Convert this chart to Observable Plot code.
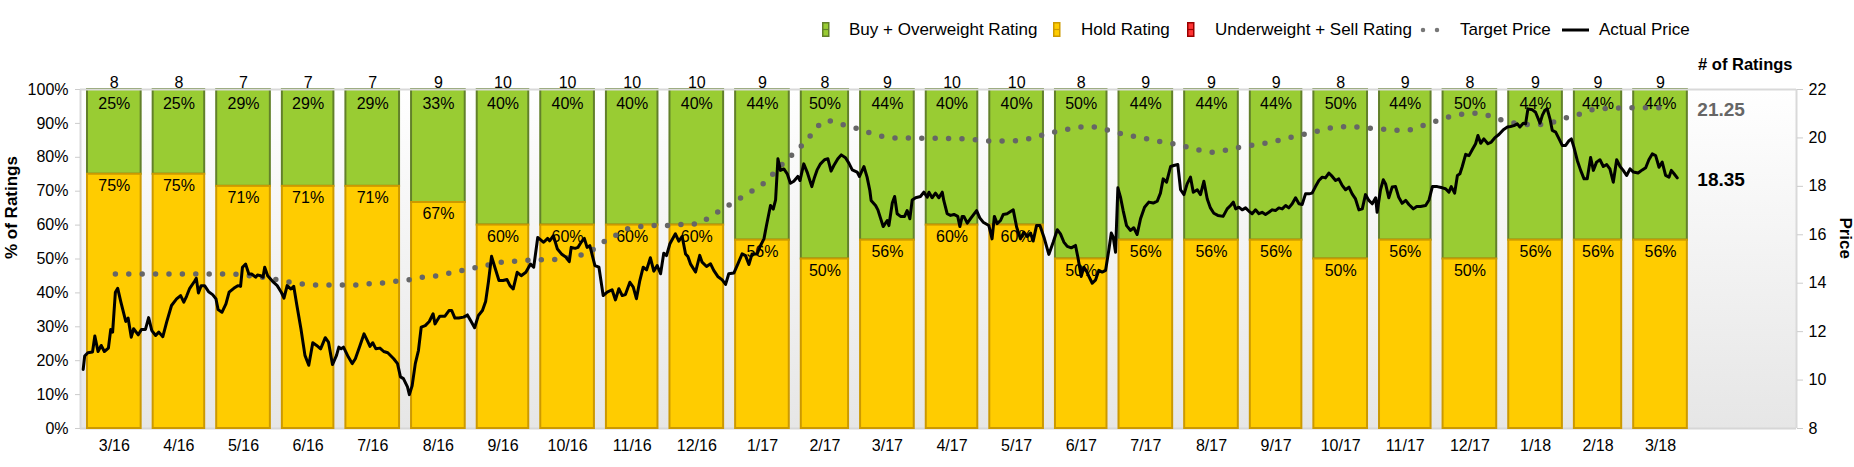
<!DOCTYPE html>
<html>
<head>
<meta charset="utf-8">
<script src="https://cdn.jsdelivr.net/npm/d3@7"></script>
<script src="https://cdn.jsdelivr.net/npm/@observablehq/plot@0.6"></script>
<style>
  html, body { margin: 0; padding: 0; background: #fff; }
  body { width: 1854px; height: 467px; overflow: hidden; font-family: "Liberation Sans", Arial, sans-serif; }
  #legend { position: relative; height: 50px; font-size: 17px; color: #000; }
  #legend .item { position: absolute; top: 20px; height: 19px; line-height: 19px; white-space: nowrap; }
  #legend svg { display: block; position: absolute; }
  #chart svg { display: block; }
</style>
</head>
<body>
<div id="legend"></div>
<div id="chart"></div>
<script>
// ---------------- data ----------------
const monthLabels = ["3/16","4/16","5/16","6/16","7/16","8/16","9/16","10/16","11/16","12/16",
  "1/17","2/17","3/17","4/17","5/17","6/17","7/17","8/17","9/17","10/17","11/17","12/17",
  "1/18","2/18","3/18"];
const buyCounts  = [2,2,2,2,2,3,4,4,4,4,4,4,4,4,4,4,4,4,4,4,4,4,4,4,4];
const holdCounts = [6,6,5,5,5,6,6,6,6,6,5,4,5,6,6,4,5,5,5,4,5,4,5,5,5];
const sellCounts = [0,0,0,0,0,0,0,0,0,0,0,0,0,0,0,0,0,0,0,0,0,0,0,0,0];

// [days after 2016-03-01, price]
const actualPrice = [[0.8,10.44],[1.5,10.99],[3,11.13],[5.2,11.16],[6.3,11.82],[7.8,11.18],[9.3,11.43],[10.8,11.18],[12.7,11.32],[13.8,12.09],[14.7,11.98],[16,13.63],[17.1,13.79],[18.6,13.22],[20.9,12.42],[22,12.56],[23.5,11.77],[24.6,12.12],[26.8,11.87],[28.3,12.09],[30.2,12.09],[31.7,12.58],[33.2,12.04],[35,11.84],[36.5,11.98],[38.4,11.79],[40.2,12.39],[42.5,13.08],[44.9,13.35],[46.8,13.49],[48.3,13.22],[49.6,13.46],[51.1,13.79],[53.3,14.07],[54.2,14.2],[55.2,13.6],[56.5,13.9],[58.1,13.9],[60,13.65],[61.9,13.53],[63.5,13.35],[64.5,12.91],[66.3,12.8],[68.2,13.15],[69.7,13.63],[71.9,13.79],[73.8,13.9],[75.1,13.87],[76,14.66],[77.5,14.79],[79,14.38],[80.3,14.38],[82.2,14.25],[83.1,14.34],[84.6,14.31],[85.7,14.25],[86.5,14.66],[87.9,14.31],[90.6,14.04],[92.4,13.9],[94.3,13.63],[95.6,13.38],[97.1,13.9],[98.9,13.76],[100.2,13.87],[101.7,13.08],[103.6,12.12],[105.5,11.02],[107.3,10.61],[109.2,11.54],[111,11.43],[112.9,11.29],[115.1,11.75],[116.6,11.57],[118.5,10.64],[120.4,11.02],[121.5,11.36],[122.6,11.29],[123.7,11.36],[126,10.95],[127.8,10.68],[129.3,10.88],[131.5,11.43],[133.4,11.91],[134.9,11.64],[136.2,11.39],[137.5,11.54],[139,11.29],[140.9,11.32],[142.7,11.18],[144.6,11.13],[147.4,10.88],[149.2,10.68],[150.6,10.13],[152,10.06],[153.9,9.72],[154.8,9.4],[156.1,9.76],[157.6,10.68],[159.1,11.23],[160.4,12.19],[162.3,12.25],[164.2,12.42],[166,12.74],[166.9,12.32],[168.4,12.53],[169.2,12.64],[171.6,12.64],[173.5,12.87],[174.8,12.87],[176.3,12.56],[178.1,12.56],[180.4,12.6],[182.2,12.69],[183.7,12.46],[185.6,12.16],[187.4,12.67],[189.3,12.87],[190.8,13.24],[192.1,14.04],[193.6,15.11],[194.9,14.73],[197.1,14.11],[199,14.11],[200.9,14.15],[202.3,13.9],[203.8,13.76],[205.7,14.45],[207.6,14.31],[209.8,14.45],[212,14.79],[213.5,14.66],[215.4,15.89],[218.2,15.69],[220.1,15.85],[221,15.75],[222.8,15.96],[224.7,15.41],[226.6,15.21],[228.8,15.07],[230.3,14.89],[231.2,15.48],[233.1,15.44],[234.4,15.48],[235.9,15.69],[237.4,15.85],[238.7,15.48],[240,15.55],[242.4,14.73],[244.3,14.66],
[246.3,13.49],[248.2,13.63],[250.5,13.73],[252.1,13.31],[253.7,13.77],[255.3,13.49],[256.8,13.53],[258.9,14.04],[260.5,13.84],[262,13.36],[263.6,14.11],[265.2,14.66],[266.8,14.55],[268.6,15.05],[270.2,14.5],[271.8,14.73],[273.4,14.39],[274.9,15.24],[276.2,15.14],[277.8,15.63],[280.4,16.04],[282,15.74],[283.6,15.93],[285.2,15.21],[286.3,15.1],[287.5,14.8],[289.9,14.46],[291.9,15.15],[293,14.87],[295.1,14.69],[297,14.8],[298.5,14.53],[300.4,14.28],[302.5,14.14],[304.1,13.95],[305.6,14.39],[308,14.42],[309.9,14.8],[311.9,15.21],[313.5,15.14],[315.1,14.77],[316.6,15.21],[319,15.21],[320.6,15.56],[322.2,15.83],[323.4,16.38],[325.3,17.21],[326.6,17.06],[327.7,17.44],[328.8,19.14],[330,18.66],[331.6,18.72],[333.2,18.52],[334.7,18.13],[336.3,18.21],[338.2,18.41],[339.2,18.24],[341,18.93],[342.6,18.59],[344.8,17.99],[346.1,18.38],[347.3,18.68],[348.9,18.93],[350.8,19.1],[352.4,19.14],[353.9,18.63],[355.2,18.86],[357.1,19.14],[358.7,19.3],[360.7,19.18],[362.3,18.96],[363.9,18.68],[366.2,18.59],[367.3,18.41],[369.4,18.82],[370.9,18.38],[372.2,17.83],[372.8,17.42],[374.9,17.21],[376,17.03],[377.2,16.7],[378.5,16.34],[380.4,16.59],[381.2,16.38],[382.8,17.31],[383.9,17.58],[385.1,16.87],[386.7,16.76],[388.6,16.76],[389.8,17],[391.1,16.66],[392.2,17.44],[393.8,17.53],[396.1,17.58],[397.7,17.76],[399.3,17.55],[400.1,17.76],[401.6,17.53],[403.2,17.72],[404.8,17.53],[406.4,17.76],[407.1,17.42],[408.7,16.87],[410.3,16.8],[411.9,16.84],[413.7,16.76],[414.7,16.34],[415.8,16.76],[416.6,16.76],[418.2,16.48],[420,16.7],[422.6,17],[424.1,16.7],[425.7,16.52],[428.4,16.38],[429.9,15.83],[431,16.76],[432.3,16.46],
[433.9,16.59],[435.2,16.84],[437,16.87],[439.9,17.03],[441.5,16.32],[443.3,15.83],[444.9,16.11],[446.5,15.93],[448.1,16.07],[449.3,15.74],[450.9,16.38],[452.5,16.38],[454.4,15.9],[456.7,15.19],[458.8,15.7],[460.7,16.21],[462.2,16.04],[463.8,15.7],[465.4,15.52],[467.3,15.46],[469.3,15.56],[470.4,15.08],[472,14.28],[473.2,14.66],[474.5,14.5],[475.6,14.28],[477.2,14],[478.8,14.14],[480.3,14.53],[481.9,14.46],[483.5,14.53],[485,15.35],[486.2,16.07],[487.1,15.9],[488.2,15.28],[489.3,17.94],[490.6,17.53],[491.8,17],[493.4,16.38],[495.3,16.18],[496.8,16.29],[498.4,16.01],[500,16.66],[501.9,17.14],[503.9,17.35],[506,17.31],[507.9,17.39],[509.4,17.72],[510.7,18.31],[512.3,18.17],[514.2,18.82],[515.7,18.86],[517.6,18.9],[518.9,17.86],[520.5,17.66],[522,18.1],[523.6,18.38],[524.9,17.76],[526.8,17.86],[528.3,17.66],[529.9,18.21],[531.5,17.48],[533,17.11],[534.6,16.89],[536.5,16.8],[539,16.76],[540.9,17.07],[542.5,17.21],[543.8,17.35],[544.9,17.07],[546.4,17.14],[548,17.03],[549.6,17.11],[551.1,16.98],[552.7,16.87],[554.3,17.03],[555.9,16.87],[557.4,16.93],[559,16.84],[560.6,16.93],[562.2,17.03],[563.7,17],[565.3,17.11],[566.9,17.07],[568.5,17.21],[570,17.11],[571.6,17.28],[573.2,17.53],[574.8,17.28],[576.3,17.25],[577.9,17.69],[579.5,17.69],[581,17.72],[582.6,17.99],[584.2,18.24],[585.8,18.38],[587.3,18.35],[588.9,18.55],[590.5,18.41],[592.1,18.24],[593.6,18.31],[595.2,18.04],[596.8,17.86],[598.4,17.97],[599.9,17.69],[601.5,17.48],[603.1,17.03],[604.7,17.07],[606.2,17.66],[607.8,17.42],[609.4,17.28],[611,17.53],[611.7,16.93],[613.3,17.86],[614.6,18.27],[615.7,18.1],[617.2,17.53],[618.8,17.97],[620.4,17.99],[621.9,17.55],
[623.5,17.3],[625.2,17.42],[626.7,17.25],[628.8,17.07],[630.4,17.17],[632.2,17.17],[634.6,17.21],[636.2,17.44],[637.8,17.99],[640.1,17.99],[642.5,17.94],[644,17.9],[645.6,17.76],[646.7,17.99],[648.3,17.72],[649.6,18.45],[650.8,18.52],[651.9,18.82],[653.5,19.32],[655.1,19.27],[656.6,19.51],[658.2,19.76],[659.3,20.1],[660.6,19.78],[662.1,19.96],[664,19.76],[665.6,19.83],[667.2,20],[669.2,20.14],[671.3,20.34],[673.2,20.45],[674.7,20.47],[676.3,20.51],[677.9,20.58],[679.1,20.45],[680.7,20.61],[681.8,20.58],[682.9,21.2],[685,21.16],[686.5,21.06],[688.6,20.61],[689.7,20.93],[690.8,21.13],[692,21.2],[693.3,20.79],[694.4,20.31],[696,20.24],[697.6,19.96],[699.1,19.69],[700.7,19.69],[702.3,19.89],[703.4,19.96],[704.6,19.62],[706.2,19.07],[707.8,18.66],[709.4,18.31],[710.9,18.31],[712.5,19.19],[713.8,18.66],[715.3,19],[716.9,19.1],[718.5,18.82],[720.1,18.9],[721.6,18.72],[723.2,18.17],[724.8,19.1],[726.4,18.82],[727.9,18.66],[729.5,18.45],[731.1,18.72],[732.7,18.59],[734.9,18.55],[736.9,18.68],[738.5,18.77],[740,19.1],[741.6,19.34],[743.2,19.27],[744.8,18.79],[746.3,19],[747.9,18.45],[749.5,18.38],[750.6,18.66],[751.9,18.52],[753.4,18.35]];

// [days after 2016-03-01, consensus target price]
const targetPrice = [[16,14.38],[29,14.38],[43,14.38],[56,14.38],[70,14.38],[76,14.34],[83,14.27],[89,14.2],[96,14.08],[102,14.0],[109,13.93],[116,13.93],[123,13.93],[129,13.93],[135,13.97],[142,14.01],[148,14.08],[155,14.15],[161,14.25],[168,14.31],[174,14.42],[181,14.55],[187,14.66],[194,14.79],[200,14.89],[207,14.92],[214,14.96],[220,14.97],[227,15.0],[233,15.11],[240,15.3],[245,15.62],
[252,15.97],[258,16.25],[264,16.34],[270,16.38],[277,16.38],[284,16.43],[291,16.45],[296,16.7],[302,17.03],[308,17.35],[313,17.62],[319,17.94],[324,18.27],[328,18.66],[333,19.1],[338,19.51],[343,19.96],[347,20.42],[352,20.72],[358,20.58],[365,20.42],[371,20.24],[377,20.09],[384,20.0],[390,20.0],[397,19.99],[403,19.99],[410,19.98],[417,19.96],[423,19.92],[430,19.87],
[436,19.87],[443,19.89],[450,20.03],[456,20.17],[463,20.31],[469,20.42],[476,20.47],[482,20.38],[488,20.24],[495,20.1],[501,20.0],[508,19.87],[515,19.76],[521,19.65],[527,19.51],[534,19.41],[541,19.51],[547,19.62],[554,19.72],[560,19.8],[566,19.92],[573,20.07],[580,20.2],[586,20.33],[592,20.44],[599,20.47],[605,20.42],[612,20.38],[619,20.33],
[625,20.31],[632,20.47],[638,20.65],[644,20.83],[651,20.97],[657,21.02],[664,20.93],[670,20.75],[677,20.61],[683,20.55],[690,20.55],[696,20.69],[702,20.86],[709,21.02],[715,21.2],[722,21.22],[728,21.24],[735,21.25],[741,21.25],[748,21.25]];

const pctTicks = [0,10,20,30,40,50,60,70,80,90,100];
const priceTicks = [8,10,12,14,16,18,20,22];
const priceMin = 8, priceMax = 22;

// ---------------- derived ----------------
const DAY = 864e5;
const t0 = Date.UTC(2016, 2, 1);
const dayDate = d => new Date(t0 + d * DAY);
const toPct = p => (p - priceMin) / (priceMax - priceMin) * 100;

const rows = monthLabels.map((label, i) => {
  const [m, y] = label.split("/").map(Number);
  const start = new Date(Date.UTC(2000 + y, m - 1, 1));
  const end = new Date(Date.UTC(2000 + y, m, 1));
  const total = buyCounts[i] + holdCounts[i] + sellCounts[i];
  const sell = sellCounts[i] / total * 100;
  const hold = holdCounts[i] / total * 100;
  const buy = buyCounts[i] / total * 100;
  return {label, start, end, mid: new Date((+start + +end) / 2), total, sell, hold, buy,
          holdTop: sell + hold, buyTop: sell + hold + buy};
});

const lastActual = actualPrice[actualPrice.length - 1][1];
const lastTarget = targetPrice[targetPrice.length - 1][1];
const lastEnd = rows[rows.length - 1].end;

const GREEN = "#99CC33", GREEN_EDGE = "#62802A";
const YELLOW = "#FFCC00", YELLOW_EDGE = "#CC9900";
const RED = "#FF3333", RED_EDGE = "#990000";
const TARGET = "#666666";
const inset = 6;

// ---------------- chart ----------------
const chart = Plot.plot({
  width: 1854,
  height: 417,
  marginLeft: 80,
  marginRight: 58,
  marginTop: 39,
  marginBottom: 39,
  style: {fontFamily: "'Liberation Sans', Arial, sans-serif", fontSize: "16px", background: "transparent", overflow: "visible", color: "#000"},
  x: {type: "utc", domain: [dayDate(-0.47), dayDate(809.7)], axis: null},
  y: {domain: [0, 100]},
  marks: [
    Plot.frame({fill: "url(#bgGrad)", stroke: "none"}),
    Plot.ruleY([0], {stroke: "#d6d6d6", strokeWidth: 2}),
    // bars
    Plot.rectY(rows, {x1: "start", x2: "end", y1: "holdTop", y2: "buyTop", fill: GREEN, stroke: GREEN_EDGE, strokeWidth: 2, insetLeft: inset, insetRight: inset}),
    Plot.rectY(rows, {x1: "start", x2: "end", y1: "sell", y2: "holdTop", fill: YELLOW, stroke: YELLOW_EDGE, strokeWidth: 2, insetLeft: inset, insetRight: inset}),
    Plot.rectY(rows, {x1: "start", x2: "end", y1: 0, y2: "sell", fill: RED, stroke: RED_EDGE, strokeWidth: 1.5, insetLeft: inset, insetRight: inset}),
    Plot.ruleY([100], {stroke: "#d9d9d9", strokeWidth: 2}),
    Plot.ruleX([dayDate(-0.47)], {stroke: "#d9d9d9", strokeWidth: 2}),
    Plot.ruleX([dayDate(809.7)], {stroke: "#d9d9d9", strokeWidth: 2}),
    // bar labels
    Plot.text(rows, {x: "mid", y: 100, text: d => String(d.total), dy: -6.5, fill: "#000"}),
    Plot.text(rows, {x: "mid", y: "buyTop", text: d => Math.round(d.buy) + "%", dy: 14, fill: "#000"}),
    Plot.text(rows, {x: "mid", y: "holdTop", text: d => Math.round(d.hold) + "%", dy: 11.5, fill: "#000"}),
    Plot.text(rows, {x: "mid", y: 0, text: "label", dy: 17.5, fill: "#000"}),
    // price lines
    Plot.line(targetPrice, {x: d => dayDate(d[0]), y: d => toPct(d[1]), stroke: TARGET, strokeWidth: 5.5, strokeDasharray: "0 13.4", strokeLinecap: "round", curve: "monotone-x"}),
    Plot.line(actualPrice, {x: d => dayDate(d[0]), y: d => toPct(d[1]), stroke: "#000", strokeWidth: 3, strokeLinejoin: "round"}),
    // end labels
    Plot.text([lastTarget], {x: lastEnd, y: toPct(lastTarget), text: d => d.toFixed(2), textAnchor: "start", dx: 4, dy: 2, fill: "#666", fontWeight: "bold", fontSize: 19}),
    Plot.text([lastActual], {x: lastEnd, y: toPct(lastActual), text: d => d.toFixed(2), textAnchor: "start", dx: 4, dy: 2.5, fill: "#000", fontWeight: "bold", fontSize: 19}),
    // axes
    Plot.axisY({anchor: "left", ticks: pctTicks, tickFormat: d => d + "%", tickSize: 5, tickPadding: 7, stroke: "#cccccc", fill: "#000", label: null}),
    Plot.axisY({anchor: "right", ticks: priceTicks.map(toPct), tickFormat: v => String(Math.round(v / 100 * (priceMax - priceMin) + priceMin)), tickSize: 6, tickPadding: 6, stroke: "#cccccc", fill: "#000", label: null}),
    // titles
    Plot.text(["% of Ratings"], {frameAnchor: "left", dx: -69, rotate: -90, fontWeight: "bold", fontSize: 17, fill: "#000"}),
    Plot.text(["Price"], {frameAnchor: "right", dx: 49, rotate: 90, fontWeight: "bold", fontSize: 17, fill: "#000"}),
    Plot.text(["# of Ratings"], {frameAnchor: "top-right", textAnchor: "end", dx: -4, dy: -31.7, fontWeight: "bold", fontSize: 16.5, fill: "#000"})
  ]
});

d3.select(chart).insert("defs", ":first-child").html(
  '<linearGradient id="bgGrad" x1="0" y1="0" x2="0" y2="1">' +
  '<stop offset="0" stop-color="#ffffff"/><stop offset="1" stop-color="#e6e6e6"/></linearGradient>');
document.getElementById("chart").appendChild(chart);

// ---------------- legend ----------------
const legendItems = [
  {kind: "bar", fill: GREEN, edge: GREEN_EDGE, label: "Buy + Overweight Rating", iconX: 822, textX: 849},
  {kind: "bar", fill: YELLOW, edge: YELLOW_EDGE, label: "Hold Rating", iconX: 1053, textX: 1081},
  {kind: "bar", fill: RED, edge: RED_EDGE, label: "Underweight + Sell Rating", iconX: 1187, textX: 1215},
  {kind: "dots", label: "Target Price", iconX: 1420, textX: 1460},
  {kind: "line", label: "Actual Price", iconX: 1562, textX: 1599}
];
const legend = d3.select("#legend");
for (const it of legendItems) {
  const icon = legend.append("div").attr("class", "item").style("left", it.iconX + "px").style("width", "30px");
  let svg;
  if (it.kind === "bar") {
    svg = icon.append("svg").attr("width", 8).attr("height", 15).style("top", "2px");
    svg.append("rect").attr("x", 0.75).attr("y", 0.75).attr("width", 6).attr("height", 13.5)
      .attr("fill", it.fill).attr("stroke", it.edge).attr("stroke-width", 1.5);
    svg.append("line").attr("x1", 0.75).attr("x2", 6.75).attr("y1", 7.5).attr("y2", 7.5)
      .attr("stroke", it.edge).attr("stroke-width", 1.2);
  } else if (it.kind === "dots") {
    svg = icon.append("svg").attr("width", 24).attr("height", 10).style("top", "5px");
    svg.append("line").attr("x1", 3).attr("x2", 18).attr("y1", 5).attr("y2", 5)
      .attr("stroke", "#777").attr("stroke-width", 4.5).attr("stroke-linecap", "round").attr("stroke-dasharray", "0 14");
  } else {
    svg = icon.append("svg").attr("width", 28).attr("height", 10).style("top", "5px");
    svg.append("line").attr("x1", 0).attr("x2", 27).attr("y1", 5).attr("y2", 5)
      .attr("stroke", "#000").attr("stroke-width", 3);
  }
  legend.append("div").attr("class", "item").style("left", it.textX + "px").text(it.label);
}
</script>
</body>
</html>
